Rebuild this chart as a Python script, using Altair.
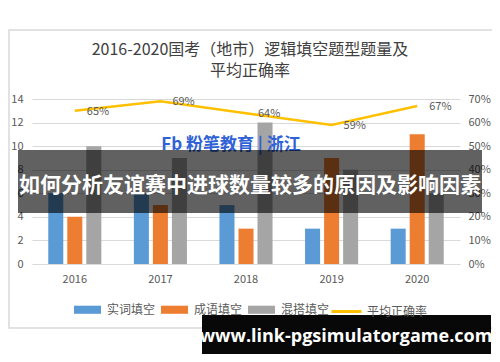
import altair as alt
import pandas as pd

years = ["2016", "2017", "2018", "2019", "2020"]
types = ["实词填空", "成语填空", "混搭填空"]
shici = [6, 6, 5, 3, 3]
chengyu = [4, 5, 3, 9, 11]
hunda = [10, 9, 12, 8, 6]
rate = [0.65, 0.69, 0.64, 0.59, 0.67]
rate_ticks = [0, 0.1, 0.2, 0.3, 0.4, 0.5, 0.6, 0.7]
line_name = "平均正确率"
bar_colors = ["#5B9BD5", "#ED7D31", "#A5A5A5"]
line_color = "#FFC000"
title_lines = ["2016-2020国考（地市）逻辑填空题型题量及", "平均正确率"]
banner_text = "如何分析友谊赛中进球数量较多的原因及影响因素"
url_text = "www.link-pgsimulatorgame.com"
mark_text = "Fb 粉笔教育 | 浙江"

rows = []
for i, y in enumerate(years):
    for t, vals in zip(types, [shici, chengyu, hunda]):
        rows.append({"year": y, "type": t, "value": vals[i]})
bars_df = pd.DataFrame(rows)
line_df = pd.DataFrame({"year": years, "rate": rate, "series": [line_name] * len(years)})
one = pd.DataFrame({"t1": [title_lines[0]], "t2": [title_lines[1]], "b": [banner_text],
                    "u": [url_text], "m": [mark_text]})

FONT = "Noto Sans CJK SC"
W, H = 428, 165

xenc = alt.X("year:N", sort=years,
             scale=alt.Scale(paddingInner=0.38, paddingOuter=0.19),
             axis=alt.Axis(title=None, labelAngle=0, domain=False, ticks=False,
                           labelPadding=9, labelFontSize=11, labelColor="#595959",
                           labelFont=FONT))

bars = alt.Chart(bars_df).mark_bar().encode(
    x=xenc,
    xOffset=alt.XOffset("type:N", sort=types, scale=alt.Scale(paddingInner=0.21)),
    y=alt.Y("value:Q", scale=alt.Scale(domain=[0, 14]),
            axis=alt.Axis(title=None, values=list(range(0, 15, 2)), domain=False, ticks=False,
                          labelPadding=9, labelFontSize=11, labelColor="#595959",
                          gridColor="#d9d9d9", labelFont=FONT, labelOverlap=False)),
    color=alt.Color("type:N", sort=types,
                    scale=alt.Scale(domain=types, range=bar_colors),
                    legend=alt.Legend(title=None, orient="none", direction="horizontal",
                                      legendX=42, legendY=197,
                                      symbolType="M-1,-0.3H1V0.3H-1Z", symbolSize=729,
                                      symbolStrokeWidth=0, symbolOpacity=1,
                                      labelFontSize=12, labelColor="#595959", labelFont=FONT,
                                      labelOffset=6, columnPadding=5)),
)

yr_scale = alt.Scale(domain=[0, 0.7], nice=False)
yr_axis = alt.Axis(title=None, orient="right", format=".0%",
                   values=rate_ticks,
                   domain=False, ticks=False, grid=False, labelPadding=8,
                   labelOverlap=False, labelBound=False, labelFlush=False,
                   labelFontSize=11, labelColor="#595959", labelFont=FONT)

line = alt.Chart(line_df).mark_line(strokeWidth=2.5).encode(
    x=alt.X("year:N", sort=years),
    y=alt.Y("rate:Q", scale=yr_scale, axis=yr_axis),
    color=alt.Color("series:N", scale=alt.Scale(domain=[line_name], range=[line_color]),
                    legend=alt.Legend(title=None, orient="none", direction="horizontal",
                                      legendX=298, legendY=196,
                                      symbolType="stroke", symbolSize=900,
                                      symbolStrokeWidth=3,
                                      labelFontSize=12, labelColor="#595959", labelFont=FONT,
                                      labelOffset=4)),
)

labels = alt.Chart(line_df).mark_text(align="left", dx=12, dy=1, fontSize=11,
                                      color="#595959", font=FONT).encode(
    x=alt.X("year:N", sort=years),
    y=alt.Y("rate:Q", scale=yr_scale, axis=yr_axis),
    text=alt.Text("rate:Q", format=".0%"),
)

main = alt.layer(bars, alt.layer(line, labels)).resolve_scale(y="independent", color="independent")

border = alt.Chart(one).mark_rect(fill="white", fillOpacity=0, stroke="#d9d9d9", strokeWidth=1.5).encode(
    x=alt.value(-23), x2=alt.value(466), y=alt.value(-69), y2=alt.value(229))
t1 = alt.Chart(one).mark_text(fontSize=16, color="#404040", font=FONT).encode(
    x=alt.value(218), y=alt.value(-49), text="t1:N")
t2 = alt.Chart(one).mark_text(fontSize=16, color="#404040", font=FONT).encode(
    x=alt.value(218), y=alt.value(-28), text="t2:N")
wm = alt.Chart(one).mark_text(fontSize=17, fontWeight="bold", color="#2f62d6", font=FONT).encode(
    x=alt.value(199), y=alt.value(46), text="m:N")
banner = alt.Chart(one).mark_rect(color="black", opacity=0.62).encode(
    x=alt.value(-14), x2=alt.value(450), y=alt.value(51), y2=alt.value(114))
btxt = alt.Chart(one).mark_text(fontSize=21, fontWeight="bold", color="white", font=FONT).encode(
    x=alt.value(218), y=alt.value(87), text="b:N")
urect = alt.Chart(one).mark_rect(color="black", opacity=0.97).encode(
    x=alt.value(170), x2=alt.value(459), y=alt.value(216), y2=alt.value(255))
utxt = alt.Chart(one).mark_text(fontSize=18, fontWeight="bold", color="white", font="Open Sans").encode(
    x=alt.value(314), y=alt.value(238), text="u:N")

chart = alt.layer(border, t1, t2, main, wm, banner, btxt, urect, utxt).properties(
    width=W, height=H,
    autosize=alt.AutoSizeParams(type="none"),
    padding={"left": 24, "top": 91, "right": 32, "bottom": 90},
).configure_view(stroke=None).configure_axis(labelOverlap=False)

chart.save("out.html", embed_options={"renderer": "svg", "actions": False})
